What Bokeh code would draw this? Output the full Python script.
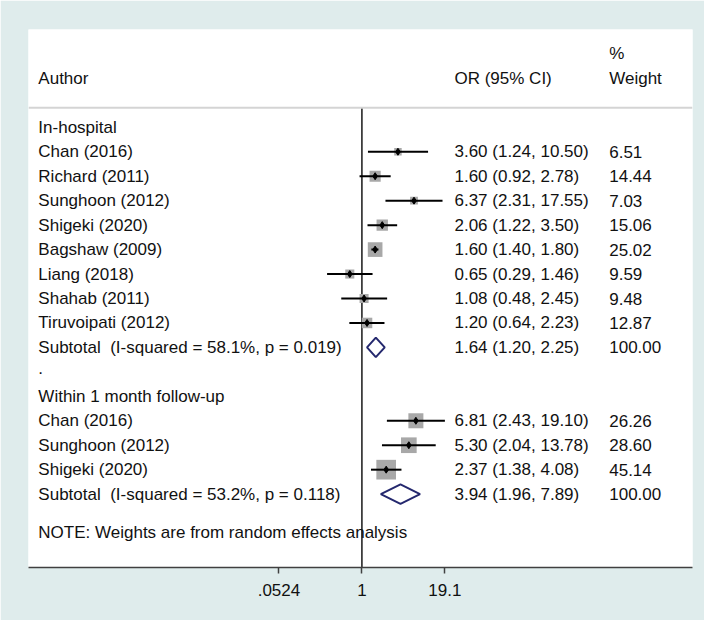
import numpy as np
from bokeh.plotting import figure
from bokeh.models import Range1d, FixedTicker, Span, ColumnDataSource
from bokeh.core.properties import value
from bokeh.embed import file_html
from bokeh.resources import INLINE

# ---------------- data ----------------
group1_labels = ["Chan (2016)", "Richard (2011)", "Sunghoon (2012)", "Shigeki (2020)",
                 "Bagshaw (2009)", "Liang (2018)", "Shahab (2011)", "Tiruvoipati (2012)"]
group1_or = [3.60, 1.60, 6.37, 2.06, 1.60, 0.65, 1.08, 1.20]
group1_lo = [1.24, 0.92, 2.31, 1.22, 1.40, 0.29, 0.48, 0.64]
group1_hi = [10.50, 2.78, 17.55, 3.50, 1.80, 1.46, 2.45, 2.23]
group1_w = [6.51, 14.44, 7.03, 15.06, 25.02, 9.59, 9.48, 12.87]
group1_sub = [1.64, 1.20, 2.25]
group1_sub_label = "Subtotal\u00a0 (I-squared = 58.1%, p = 0.019)"

group2_labels = ["Chan (2016)", "Sunghoon (2012)", "Shigeki (2020)"]
group2_or = [6.81, 5.30, 2.37]
group2_lo = [2.43, 2.04, 1.38]
group2_hi = [19.10, 13.78, 4.08]
group2_w = [26.26, 28.60, 45.14]
group2_sub = [3.94, 1.96, 7.89]
group2_sub_label = "Subtotal\u00a0 (I-squared = 53.2%, p = 0.118)"

group_titles = ["In-hospital", "Within 1 month follow-up"]
tick_values = [0.0524, 1, 19.1]
tick_labels = [".0524", "1", "19.1"]
note_text = "NOTE: Weights are from random effects analysis"

# ---------------- layout ----------------
FONT = "Liberation Sans"
FS = "17px"
TXT = "#111111"
LN_LEFT, LN_RIGHT = -11.85, 11.75
X_AUTHOR = np.exp(-11.50)
X_OR = np.exp(3.29)
X_W = np.exp(8.79)

p = figure(width=704, height=620, x_axis_type="log",
           x_range=Range1d(np.exp(LN_LEFT), np.exp(LN_RIGHT)),
           y_range=Range1d(18, -4),
           output_backend="svg", toolbar_location=None,
           min_border_left=28, min_border_right=12, min_border_top=29, min_border_bottom=53,
           y_axis_location=None)
p.background_fill_color = "white"
p.border_fill_color = "#dfecec"
p.outline_line_color = None
p.xgrid.visible = False
p.ygrid.visible = False

ax = p.xaxis[0]
ax.ticker = FixedTicker(ticks=tick_values, minor_ticks=[])
ax.major_label_overrides = {t: l for t, l in zip(tick_values, tick_labels)}
ax.major_tick_in = 0
ax.major_tick_out = 6
ax.minor_tick_line_color = None
ax.axis_line_color = "#404040"
ax.axis_line_width = 1.5
ax.major_tick_line_color = "#404040"
ax.major_tick_line_width = 1.5
ax.major_label_text_font = FONT
ax.major_label_text_font_size = FS
ax.major_label_text_color = TXT
ax.major_label_standoff = 10

# rows
g1_rows = list(range(1, 1 + len(group1_labels)))
g1_sub_row = g1_rows[-1] + 1
dot_row = g1_sub_row + 1
g2_title_row = dot_row + 1
g2_rows = list(range(g2_title_row + 1, g2_title_row + 1 + len(group2_labels)))
g2_sub_row = g2_rows[-1] + 1

# header separator & null line
p.add_layout(Span(location=-0.8, dimension="width", line_color="#d4d4d4", line_width=2))
p.segment(x0=[1], x1=[1], y0=[-0.8], y1=[18], line_color="#262626", line_width=1.6)

# studies
rows = g1_rows + g2_rows
ors = group1_or + group2_or
los = group1_lo + group2_lo
his = group1_hi + group2_hi
ws = group1_w + group2_w
src = ColumnDataSource(dict(y=rows, est=ors, lo=los, hi=his, w=ws,
                            size=[2.93 * np.sqrt(w) for w in ws]))
p.scatter(x="est", y="y", size="size", marker="square", source=src,
          fill_color="#a8a8a8", line_color=None)
p.segment(x0="lo", x1="hi", y0="y", y1="y", source=src, line_color="black", line_width=2)
p.scatter(x="est", y="y", size=7, marker="diamond", source=src,
          fill_color="black", line_color="black")

# subtotal diamonds
h = 0.4
subs = [(g1_sub_row, group1_sub), (g2_sub_row, group2_sub)]
p.patches(xs=[[s[1], s[0], s[2], s[0]] for r, s in subs],
          ys=[[r, r - h, r, r + h] for r, s in subs],
          fill_color="white", line_color="#24286e", line_width=2)

# texts
def txt(x, y, t):
    p.text(x=x, y=y, text=t, text_font=value(FONT), text_font_size=FS,
           text_color=TXT, text_baseline="middle", text_align="left")

left_texts = ([group_titles[0]] + group1_labels + [group1_sub_label, "."] +
              [group_titles[1]] + group2_labels + [group2_sub_label])
left_rows = [0] + g1_rows + [g1_sub_row, dot_row - 0.15, g2_title_row] + g2_rows + [g2_sub_row]
txt([X_AUTHOR] * len(left_texts), left_rows, left_texts)

or_rows = g1_rows + [g1_sub_row] + g2_rows + [g2_sub_row]
or_vals = group1_or + [group1_sub[0]] + group2_or + [group2_sub[0]]
or_los = group1_lo + [group1_sub[1]] + group2_lo + [group2_sub[1]]
or_his = group1_hi + [group1_sub[2]] + group2_hi + [group2_sub[2]]
or_texts = [f"{a:.2f} ({b:.2f}, {c:.2f})" for a, b, c in zip(or_vals, or_los, or_his)]
txt([X_OR] * len(or_texts), or_rows, or_texts)

w_vals = group1_w + [100.0] + group2_w + [100.0]
w_texts = [f"{w:.2f}" for w in w_vals]
txt([X_W] * len(w_texts), or_rows, w_texts)

# headers & note
txt([X_AUTHOR], [-2], ["Author"])
txt([X_OR], [-2], ["OR (95% CI)"])
txt([X_W, X_W], [-3, -2], ["%", "Weight"])
txt([X_AUTHOR], [16.55], [note_text])

open("out.html", "w").write(file_html(p, INLINE))
